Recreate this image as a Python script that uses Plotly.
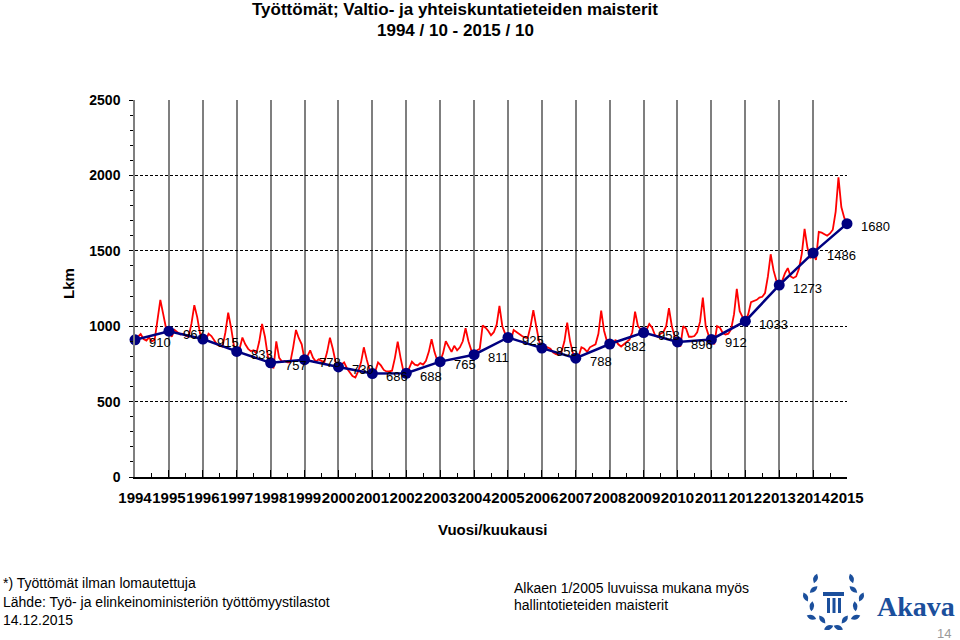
import math
import pandas as pd
import plotly.graph_objects as go

# ---------------- data ----------------
years = list(range(1994, 2016))
year_labels = [str(y) for y in years]
# October values (blue, annual points)
annual = [910, 967, 915, 833, 757, 778, 730, 686, 688, 765, 811,
          925, 855, 788, 882, 958, 896, 912, 1033, 1273, 1486, 1680]

# monthly values, each list Oct(Y) .. Sep(Y+1)
m1994 = [910, 930, 948, 915, 905, 925, 900, 910, 1040, 1174, 1080, 985]
m1995 = [967, 930, 975, 960, 945, 950, 935, 930, 1020, 1140, 1060, 950]
m1996 = [915, 905, 950, 935, 905, 880, 870, 865, 960, 1090, 990, 870]
m1997 = [833, 850, 925, 880, 850, 835, 840, 820, 900, 1015, 930, 800]
m1998 = [757, 720, 900, 790, 765, 770, 760, 760, 860, 975, 920, 880]
m1999 = [778, 800, 840, 790, 765, 780, 770, 760, 830, 924, 850, 760]
m2000 = [730, 745, 760, 720, 690, 670, 660, 700, 760, 860, 780, 710]
m2001 = [686, 700, 760, 740, 710, 700, 700, 705, 790, 897, 790, 700]
m2002 = [688, 720, 765, 745, 740, 755, 745, 770, 830, 913, 830, 770]
m2003 = [765, 820, 900, 860, 830, 870, 840, 860, 900, 986, 900, 840]
m2004 = [811, 840, 850, 1005, 990, 970, 940, 960, 1010, 1134, 1000, 950]
m2005 = [925, 905, 975, 960, 945, 935, 925, 920, 1000, 1107, 1000, 900]
m2006 = [855, 835, 860, 850, 825, 815, 810, 830, 900, 1023, 900, 820]
m2007 = [788, 800, 860, 850, 830, 860, 870, 880, 950, 1103, 970, 900]
m2008 = [882, 860, 910, 880, 865, 880, 895, 910, 960, 1096, 1000, 980]
m2009 = [958, 975, 1015, 990, 940, 930, 950, 960, 1000, 1119, 1000, 930]
m2010 = [896, 865, 1000, 985, 930, 930, 935, 960, 1030, 1189, 1000, 940]
m2011 = [912, 880, 1000, 990, 955, 945, 950, 980, 1080, 1247, 1100, 1060]
m2012 = [1033, 1080, 1160, 1165, 1175, 1190, 1195, 1220, 1330, 1477, 1370, 1300]
m2013 = [1273, 1300, 1350, 1385, 1330, 1320, 1330, 1380, 1480, 1645, 1520, 1450]
m2014 = [1486, 1439, 1625, 1620, 1610, 1600, 1615, 1640, 1760, 1987, 1790, 1720]
m2015 = [1680]

monthly = (m1994 + m1995 + m1996 + m1997 + m1998 + m1999 + m2000 + m2001 +
           m2002 + m2003 + m2004 + m2005 + m2006 + m2007 + m2008 + m2009 +
           m2010 + m2011 + m2012 + m2013 + m2014 + m2015)

month_dates = pd.date_range("1994-10-01", periods=len(monthly), freq="MS")
annual_dates = pd.to_datetime([f"{y}-10-01" for y in years])

# ---------------- layout geometry ----------------
W, H = 960, 640
L, R, T, B = 135, 847, 100, 477   # plot area in pixels


def px(x):
    return (x - L) / (R - L)


def py(y):
    return (B - y) / (B - T)


FONT = "Liberation Sans, Arial, Helvetica, sans-serif"

fig = go.Figure()

fig.add_trace(go.Scatter(
    x=month_dates, y=monthly, mode="lines",
    line=dict(color="#FF0000", width=1.8),
    hoverinfo="skip", showlegend=False, cliponaxis=False))

fig.add_trace(go.Scatter(
    x=annual_dates, y=annual, mode="lines+markers",
    line=dict(color="#000080", width=2.5),
    marker=dict(color="#000080", size=11),
    showlegend=False, cliponaxis=False))

annotations = []
for d, v in zip(annual_dates, annual):
    annotations.append(dict(
        x=d, y=v, xref="x", yref="y", text=str(v), showarrow=False,
        xanchor="left", yanchor="middle", xshift=12, yshift=-3,
        font=dict(family=FONT, size=13, color="black")))


def txt(x, y, s, size=14, bold=False, anchor="left", color="black",
        family=FONT, angle=0):
    annotations.append(dict(
        x=px(x), y=py(y), xref="paper", yref="paper", text=s,
        showarrow=False, xanchor=anchor, yanchor="middle", textangle=angle,
        font=dict(family=family, size=size, color=color,
                  weight="bold" if bold else "normal")))


txt(455, 10, "Työttömät; Valtio- ja yhteiskuntatieteiden maisterit", 17, True, "center")
txt(455, 31, "1994 / 10 - 2015 / 10", 17, True, "center")
txt(68, 284, "Lkm", 15, True, "center", angle=-90)
txt(492, 529, "Vuosi/kuukausi", 15, True, "center")
txt(1, 583, "*) Työttömät ilman lomautettuja", 14)
txt(1, 602, "Lähde: Työ- ja elinkeinoministeriön työttömyystilastot", 14)
txt(1, 620, "14.12.2015", 14)
txt(512, 588, "Alkaen 1/2005 luvuissa mukana myös", 14)
txt(512, 605, "hallintotieteiden maisterit", 14)
txt(916, 606, "Akava", 28, True, "center", color="#1B4F9C",
    family="Liberation Serif, DejaVu Serif, serif")
txt(944, 633, "14", 13, False, "center", color="#9A9A9A")

# ---------------- Akava logo (decoration) ----------------
LOGO = "#1B4F9C"
shapes = []
cx, cy, rr = 833.5, 600.0, 24.0


def leaf(xc, yc, dx, dy, length=10.0, half=2.3):
    bx, by = xc - dx * length / 2, yc - dy * length / 2
    tx, ty = xc + dx * length / 2, yc + dy * length / 2
    nx, ny = -dy, dx
    c1 = (xc + nx * half * 2, yc + ny * half * 2)
    c2 = (xc - nx * half * 2, yc - ny * half * 2)
    pts = [(bx, by), c1, (tx, ty), c2]
    p = [(px(a), py(b)) for a, b in pts]
    return (f"M {p[0][0]},{p[0][1]} Q {p[1][0]},{p[1][1]} {p[2][0]},{p[2][1]} "
            f"Q {p[3][0]},{p[3][1]} {p[0][0]},{p[0][1]} Z")


for i, a in enumerate([40, 62, 84, 106, 128, 150, 170]):
    ar = math.radians(a)
    outer = (i % 2 == 0)
    r_ = rr + (4.0 if outer else -1.5)
    tilt = math.radians(32 if outer else -22)
    for side in (1, -1):
        x0 = cx + side * r_ * math.sin(ar)
        y0 = cy - r_ * math.cos(ar)
        ux = -side * math.cos(ar)
        uy = -math.sin(ar)
        t = side * tilt
        ux2 = ux * math.cos(t) - uy * math.sin(t)
        uy2 = ux * math.sin(t) + uy * math.cos(t)
        shapes.append(dict(type="path", xref="paper", yref="paper",
                           path=leaf(x0, y0, ux2, uy2),
                           fillcolor=LOGO, line=dict(width=0)))


def rect(x0, y0, x1, y1):
    shapes.append(dict(type="rect", xref="paper", yref="paper",
                       x0=px(x0), x1=px(x1), y0=py(y0), y1=py(y1),
                       fillcolor=LOGO, line=dict(width=0)))


rect(823, 592, 844, 596)
for bx in (827, 832.5, 838):
    rect(bx, 598, bx + 3, 613)

fig.update_layout(
    width=W, height=H,
    margin=dict(l=L, r=W - R, t=T, b=H - B, pad=0),
    paper_bgcolor="white", plot_bgcolor="white",
    annotations=annotations, shapes=shapes,
    font=dict(family=FONT, color="black"),
    xaxis=dict(
        type="date",
        range=[annual_dates[0], annual_dates[-1]],
        tickvals=annual_dates, ticktext=year_labels,
        tickangle=0,
        tickfont=dict(family=FONT, size=15, color="black", weight="bold"),
        ticks="inside", ticklen=7, tickcolor="black", tickwidth=1,
        ticklabelstandoff=6,
        showgrid=True, gridcolor="#7F7F7F", gridwidth=1.5,
        showline=True, linecolor="black", linewidth=1.5,
        zeroline=False,
        minor=dict(dtick="M6", tick0="1994-10-01", ticks="inside",
                   ticklen=4, tickcolor="black", showgrid=False),
    ),
    yaxis=dict(
        range=[0, 2500], tickvals=[0, 500, 1000, 1500, 2000, 2500],
        tickfont=dict(family=FONT, size=14, color="black", weight="bold"),
        ticks="outside", ticklen=4, tickcolor="black",
        ticklabelstandoff=6,
        showgrid=True, gridcolor="black", gridwidth=1, griddash="3px,2px",
        showline=True, linecolor="#7F7F7F", linewidth=1.5,
        zeroline=False,
        minor=dict(dtick=100, ticks="outside", ticklen=3,
                   tickcolor="black", showgrid=False),
    ),
)

fig.write_html("out.html",
               config={"displayModeBar": False},
               post_script="document.body.style.margin='0';"
                           "document.body.style.padding='0';")
